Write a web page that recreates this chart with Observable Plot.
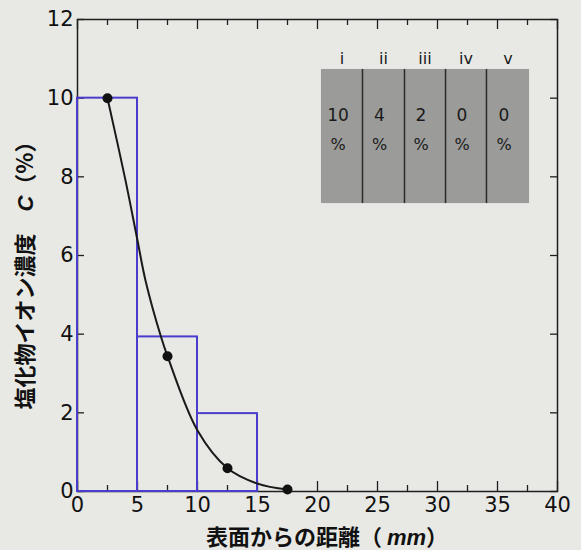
<!DOCTYPE html>
<html>
<head>
<meta charset="utf-8">
<script src="https://cdn.jsdelivr.net/npm/d3@7"></script>
<script src="https://cdn.jsdelivr.net/npm/@observablehq/plot@0.6"></script>
<style>
  html, body { margin: 0; padding: 0; background: #e8e9e5; }
  #chart { width: 581px; height: 550px; }
</style>
</head>
<body>
<div id="chart"></div>
<script>
// Histogram bins (mm) and concentration (%)
const binStart = [0, 5, 10, 15, 20, 25, 30, 35];
const binEnd   = [5, 10, 15, 20, 25, 30, 35, 40];
const binValue = [10, 3.93, 1.98, 0, 0, 0, 0, 0];

// Measured points
const pointX = [2.5, 7.5, 12.5, 17.5];
const pointY = [10, 3.44, 0.59, 0.05];

// Fitted curve
const curveX = [2.5, 4.0, 5.0, 5.67, 6.97, 7.5, 10, 12.5, 15, 17.5];
const curveY = [10, 7.91, 6.38, 5.36, 3.92, 3.44, 1.55, 0.59, 0.2, 0.05];

// Inset table
const insetLabels = ["i", "ii", "iii", "iv", "v"];
const insetValues = ["10", "4", "2", "0", "0"];
const insetEdges = [20.33, 23.75, 27.25, 30.67, 34.08, 37.67];
const insetTop = 10.73, insetBottom = 7.32;
const insetLabelY = 11.0, insetValueY = 9.56, insetPctY = 8.8;

// Axis ticks
const xMajor = [0, 5, 10, 15, 20, 25, 30, 35, 40];
const xMinor = [2.5, 7.5, 12.5, 17.5, 22.5, 27.5, 32.5, 37.5];
const yMajor = [0, 2, 4, 6, 8, 10, 12];

const bins = binStart.map((s, i) => ({x1: s, x2: binEnd[i], y: binValue[i]}));
const points = pointX.map((x, i) => ({x, y: pointY[i]}));
const curve = curveX.map((x, i) => ({x, y: curveY[i]}));
const cols = insetLabels.map((l, i) => ({
  label: l, value: insetValues[i],
  x1: insetEdges[i], x2: insetEdges[i + 1],
  xm: (insetEdges[i] + insetEdges[i + 1]) / 2
}));
const dividers = insetEdges.slice(1, -1);

const W = 581, H = 550, mt = 19, mb = 59, ml = 77, mr = 24;
const frameH = H - mt - mb;
const frameW = W - ml - mr;
const sans = "'Liberation Sans', Arial, sans-serif";
const tickFont = "'DejaVu Sans', 'Liberation Sans', sans-serif";

const plot = Plot.plot({
  width: W, height: H,
  marginTop: mt, marginBottom: mb, marginLeft: ml, marginRight: mr,
  style: {background: "transparent", fontFamily: sans, color: "#111"},
  x: {domain: [0, 40]},
  y: {domain: [0, 12]},
  marks: [
    // inset table
    Plot.rect(cols, {x1: "x1", x2: "x2", y1: insetBottom, y2: insetTop, fill: "#9b9b99"}),
    Plot.ruleX(dividers, {x: d => d, y1: insetBottom, y2: insetTop, stroke: "#2a2a2a", strokeWidth: 1.5}),
    Plot.text(cols, {x: "xm", y: insetLabelY, text: "label", fontSize: 16, fontFamily: "'DejaVu Sans', sans-serif", fill: "#1a1a1a"}),
    Plot.text(cols, {x: "xm", y: insetValueY, text: "value", fontSize: 17, fontFamily: "'DejaVu Sans', sans-serif", fill: "#1a1a1a", dx: -4}),
    Plot.text(cols, {x: "xm", y: insetPctY, text: () => "%", fontSize: 16, fontFamily: "'DejaVu Sans', sans-serif", fill: "#1a1a1a", dx: -4}),
    // frame
    Plot.frame({stroke: "#1f1f1f", strokeWidth: 1.5}),
    // ticks (inward)
    Plot.tickX(xMajor, {x: d => d, insetTop: frameH - 10, stroke: "#1f1f1f", strokeWidth: 1.3}),
    Plot.tickX(xMinor, {x: d => d, insetTop: frameH - 6, stroke: "#1f1f1f", strokeWidth: 1.3}),
    Plot.tickX(xMajor, {x: d => d, insetBottom: frameH - 10, stroke: "#1f1f1f", strokeWidth: 1.3}),
    Plot.tickX(xMinor, {x: d => d, insetBottom: frameH - 6, stroke: "#1f1f1f", strokeWidth: 1.3}),
    Plot.tickY(yMajor, {y: d => d, insetRight: frameW - 7, stroke: "#1f1f1f", strokeWidth: 1.3}),
    Plot.tickY(yMajor, {y: d => d, insetLeft: frameW - 7, stroke: "#1f1f1f", strokeWidth: 1.3}),
    // histogram bars
    Plot.rectY(bins, {x1: "x1", x2: "x2", y: "y", fill: "none", stroke: "#4a3ccc", strokeWidth: 2}),
    // curve
    Plot.line(curve, {x: "x", y: "y", curve: "catmull-rom", stroke: "#1a1a1a", strokeWidth: 2}),
    Plot.dot(points, {x: "x", y: "y", r: 5, fill: "#111", stroke: "none"}),
    // axes labels
    Plot.axisX(xMajor, {tickSize: 0, tickPadding: 6, label: null, fontSize: 21, fontFamily: tickFont, fill: "#111"}),
    Plot.axisY(yMajor, {tickSize: 0, tickPadding: 4, label: null, fontSize: 21, fontFamily: tickFont, fill: "#111"})
  ]
});

document.getElementById("chart").appendChild(plot);

const svg = d3.select(plot);
// make sure the tick label font is applied
svg.selectAll('g[aria-label="x-axis tick label"], g[aria-label="y-axis tick label"]')
  .attr("font-size", 21).attr("font-family", tickFont);

// Axis titles with mixed styles
const cjk = "'Noto Sans CJK JP', 'Liberation Sans', sans-serif";
const xt = svg.append("text")
  .attr("x", 327).attr("y", 545)
  .attr("text-anchor", "middle")
  .attr("font-family", cjk).attr("font-weight", "bold").attr("font-size", 22)
  .attr("fill", "#111");
xt.append("tspan").text("表面からの距離（ ");
xt.append("tspan").attr("font-style", "italic").attr("font-family", sans).text("mm");
xt.append("tspan").text("）");

const yt = svg.append("text")
  .attr("transform", "translate(33,270) rotate(-90)")
  .attr("text-anchor", "middle")
  .attr("font-family", cjk).attr("font-weight", "bold").attr("font-size", 22)
  .attr("fill", "#111");
yt.append("tspan").text("塩化物イオン濃度　");
yt.append("tspan").attr("font-style", "italic").attr("font-family", sans).text("C");
yt.append("tspan").text("（%）");
</script>
</body>
</html>
